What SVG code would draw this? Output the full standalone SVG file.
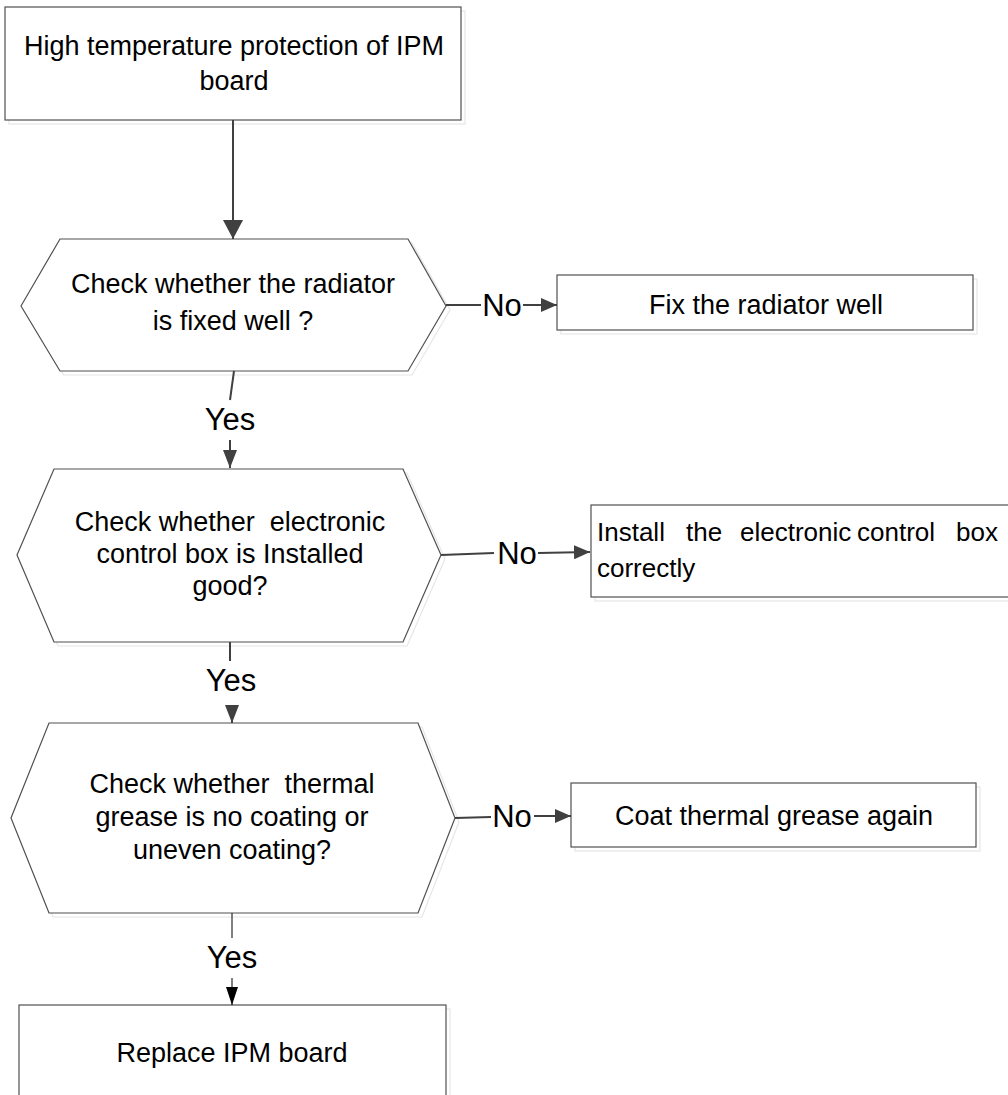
<svg xmlns="http://www.w3.org/2000/svg" width="1008" height="1095" viewBox="0 0 1008 1095">
<defs>
<style>
.box{fill:#fff;stroke:#505050;stroke-width:1.2}
.shadow{fill:none;stroke:#e6e6e6;stroke-width:1.2}
.t{font-family:"Liberation Sans",Arial,sans-serif;font-size:27px;fill:#000;text-anchor:middle}
.tl{font-family:"Liberation Sans",Arial,sans-serif;font-size:26px;fill:#000}
.lab{font-family:"Liberation Sans",Arial,sans-serif;font-size:31px;fill:#000;text-anchor:middle}
.c{fill:none;stroke:#404040;stroke-width:2}
.cb{fill:none;stroke:#000;stroke-width:1}
</style>
<marker id="ah" viewBox="0 0 16 14" refX="16" refY="7" markerWidth="16" markerHeight="14" markerUnits="userSpaceOnUse" orient="auto"><path d="M0,0 L16,7 L0,14 z" fill="#404040"/></marker>
<marker id="ahv" viewBox="0 0 18 14" refX="18" refY="7" markerWidth="18" markerHeight="14" markerUnits="userSpaceOnUse" orient="auto"><path d="M0,0 L18,7 L0,14 z" fill="#404040"/></marker>
<marker id="ahbig" viewBox="0 0 19 20" refX="19" refY="10" markerWidth="19" markerHeight="20" markerUnits="userSpaceOnUse" orient="auto"><path d="M0,0 L19,10 L0,20 z" fill="#404040"/></marker>
<marker id="ahk" viewBox="0 0 18 12" refX="18" refY="6" markerWidth="18" markerHeight="12" markerUnits="userSpaceOnUse" orient="auto"><path d="M0,0 L18,6 L0,12 z" fill="#000"/></marker>
</defs>
<rect width="1008" height="1095" fill="#fff"/>

<g id="start">
<rect class="shadow" x="9" y="11" width="456" height="113"/>
<rect class="box" x="5" y="7" width="456" height="113"/>
<text class="t" x="234" y="55">High temperature protection of IPM</text>
<text class="t" x="234" y="90">board</text>
</g>

<g id="check1">
<polygon class="shadow" points="25,310 64,243 412,243 450,310 412,375 64,375"/>
<polygon class="box" points="21,306 60,239 408,239 446,306 408,371 60,371"/>
<text class="t" x="233" y="293">Check whether the radiator</text>
<text class="t" x="233" y="330">is fixed well ?</text>
</g>

<g id="fix1">
<rect class="shadow" x="561" y="279" width="416" height="55"/>
<rect class="box" x="557" y="275" width="416" height="55"/>
<text class="t" x="766" y="314">Fix the radiator well</text>
</g>

<g id="check2">
<polygon class="shadow" points="21,559 58,473 407,473 445,559 407,646 58,646"/>
<polygon class="box" points="17,555 54,469 403,469 441,555 403,642 54,642"/>
<text class="t" x="230" y="531" xml:space="preserve">Check whether  electronic</text>
<text class="t" x="230" y="563">control box is Installed</text>
<text class="t" x="230" y="595">good?</text>
</g>

<g id="fix2">
<rect class="shadow" x="595" y="509" width="420" height="92"/>
<rect class="box" x="591" y="505" width="420" height="92"/>
<text class="tl" y="541"><tspan x="597">Install</tspan><tspan x="686">the</tspan><tspan x="740">electronic</tspan><tspan x="857">control</tspan><tspan x="956">box</tspan></text>
<text class="tl" x="597" y="577">correctly</text>
</g>

<g id="check3">
<polygon class="shadow" points="15,822 53,727 422,727 459,822 422,917 53,917"/>
<polygon class="box" points="11,818 49,723 418,723 455,818 418,913 49,913"/>
<text class="t" x="232" y="793" xml:space="preserve">Check whether  thermal</text>
<text class="t" x="232" y="826">grease is no coating or</text>
<text class="t" x="232" y="859">uneven coating?</text>
</g>

<g id="fix3">
<rect class="shadow" x="575" y="787" width="405" height="64"/>
<rect class="box" x="571" y="783" width="405" height="64"/>
<text class="t" x="774" y="825">Coat thermal grease again</text>
</g>

<g id="replace">
<rect class="shadow" x="23" y="1009" width="427" height="100"/>
<rect class="box" x="19" y="1005" width="427" height="100"/>
<text class="t" x="232" y="1062">Replace IPM board</text>
</g>

<g id="connectors">
<line class="c" x1="233" y1="120" x2="233" y2="239" marker-end="url(#ahbig)"/>

<line class="c" x1="446" y1="305" x2="481" y2="305"/>
<text class="lab" x="502" y="316">No</text>
<line class="c" x1="523" y1="305" x2="557" y2="305" marker-end="url(#ah)"/>

<line class="c" x1="234" y1="371" x2="230" y2="400"/>
<text class="lab" x="230" y="430">Yes</text>
<line class="c" x1="230" y1="440" x2="230" y2="468" marker-end="url(#ahv)"/>

<line class="c" x1="441" y1="555" x2="494" y2="553"/>
<text class="lab" x="517" y="564">No</text>
<line class="c" x1="538" y1="553" x2="590" y2="552" marker-end="url(#ah)"/>

<line class="c" x1="230" y1="642" x2="230" y2="661"/>
<text class="lab" x="231" y="691">Yes</text>
<line class="c" x1="232" y1="705" x2="232" y2="723" marker-end="url(#ahv)"/>

<line class="c" x1="455" y1="818" x2="491" y2="817"/>
<text class="lab" x="512" y="827">No</text>
<line class="c" x1="534" y1="816" x2="571" y2="816" marker-end="url(#ah)"/>

<line class="cb" x1="232" y1="913" x2="232" y2="938"/>
<text class="lab" x="232" y="968">Yes</text>
<line class="cb" x1="232" y1="978" x2="232" y2="1005" marker-end="url(#ahk)"/>
</g>
</svg>
